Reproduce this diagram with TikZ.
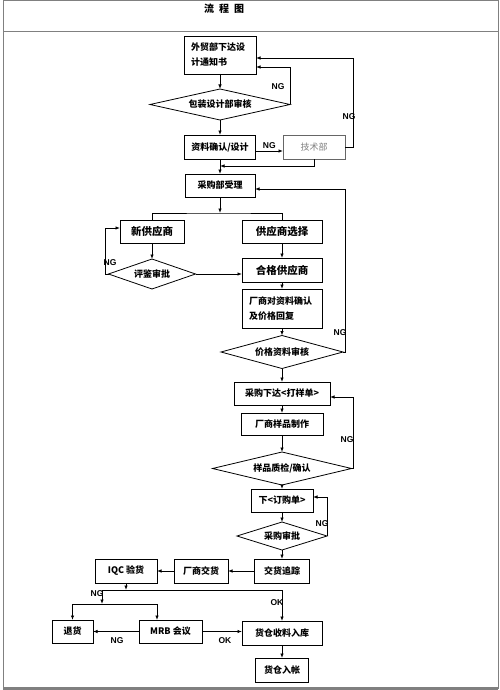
\documentclass[tikz,border=0pt]{standalone}
\usepackage{fontspec}
\setmainfont{Noto Sans CJK SC}
\newfontfamily\ngfont{Liberation Sans}
\usetikzlibrary{shapes.geometric,arrows.meta}

\tikzset{
box/.style={draw,rectangle,inner sep=0pt,outer sep=0pt,font=\bfseries\fontsize{9}{15}\selectfont},
big/.style={font=\bfseries\fontsize{10.5}{12}\selectfont},
chk/.style={draw,diamond,aspect=4,inner sep=0pt,outer sep=0pt,font=\bfseries\fontsize{9}{12}\selectfont},
ng/.style={font=\ngfont\bfseries\fontsize{8.5}{9}\selectfont,inner sep=0pt},
arr/.style={-{Latex[length=4.5pt,width=3.5pt]}},
}

\begin{document}
\begin{tikzpicture}[x=1pt,y=-1pt,line width=0.8pt]
\useasboundingbox (0,0) rectangle (500,690);
\draw[gray,line width=1pt] (3,1) rectangle (498,688);
\draw[gray,line width=1pt] (3,32) -- (498,32);
\draw[gray,line width=3pt] (3,688) -- (498,688);
\node[font=\bfseries\fontsize{10}{12}\selectfont] (title) at (224,9) {流\hspace{5pt}程\hspace{5pt}图};

\node[box,text width=58pt,align=left,inner xsep=7pt,minimum height=38pt] (b1) at (220,55) {外贸部下达设\\计通知书};
\node[chk,minimum width=140pt,minimum height=31pt] (d1) at (220,104.5) {包装设计部审核};
\node[box,minimum width=71pt,minimum height=24pt] (b2) at (220,147) {资料确认/设计};
\node[box,draw=black!60,text=black!50,font=\fontsize{9}{12}\selectfont,minimum width=62pt,minimum height=24pt] (b3) at (314,147) {技术部};
\node[box,minimum width=70pt,minimum height=23pt] (b4) at (220,185.5) {采购部受理};
\node[box,big,minimum width=64pt,minimum height=23pt] (b5) at (152,231.5) {新供应商};
\node[box,big,minimum width=80pt,minimum height=23pt] (b6) at (282,231.5) {供应商选择};
\node[chk,minimum width=87pt,minimum height=30pt] (d2) at (152,274) {评鉴审批};
\node[box,big,minimum width=80pt,minimum height=24pt] (b7) at (282,270) {合格供应商};
\node[box,text width=66pt,align=left,inner xsep=7pt,minimum height=39pt] (b8) at (282,308.5) {厂商对资料确认\\及价格回复};
\node[chk,minimum width=122pt,minimum height=33pt] (d3) at (282,352) {价格资料审核};
\node[box,minimum width=96pt,minimum height=23pt] (b9) at (282,393.5) {采购下达<打样单>};
\node[box,minimum width=82pt,minimum height=22pt] (b10) at (282,424) {厂商样品制作};
\node[chk,minimum width=139pt,minimum height=33pt] (d4) at (282,468.5) {样品质检/确认};
\node[box,minimum width=62pt,minimum height=23pt] (b11) at (282,500.5) {下<订购单>};
\node[chk,minimum width=90pt,minimum height=28pt] (d5) at (282,536) {采购审批};
\node[box,minimum width=55pt,minimum height=24pt] (b12) at (282,571) {交货追踪};
\node[box,minimum width=54pt,minimum height=24pt] (b13) at (201,571) {厂商交货};
\node[box,minimum width=62pt,minimum height=24pt] (b14) at (126,571) {IQC 验货};
\node[box,minimum width=41pt,minimum height=23pt] (b15) at (72.5,631.5) {退货};
\node[box,minimum width=63pt,minimum height=23pt] (b16) at (170.5,631.5) {MRB 会议};
\node[box,minimum width=80pt,minimum height=24pt] (b17) at (282,633) {货仓收料入库};
\node[box,minimum width=53pt,minimum height=24pt] (b18) at (282,670) {货仓入帐};

\coordinate (j1) at (220,166);
\coordinate (br1) at (220,213);
\coordinate (s1) at (102,590);
\coordinate (s2) at (282,590);
\coordinate (s3) at (102,604);

\draw[arr] (b1.south) -- (d1.north);
\draw[arr] (d1.south) -- (b2.north);
\draw[arr] (d1.east) |- ([yshift=-12pt]b1.east);
\draw[arr] ([yshift=-4pt]b2.east) -- ([yshift=-4pt]b3.west) node[ng,midway,above=2pt] {NG};
\draw[arr] (b3.east) -- ++(8,0) |- ([yshift=-3pt]b1.east);
\draw[arr] (b3.south) |- (j1);
\draw[arr] (b2.south) -- (b4.north);
\draw[arr] (b4.south) -- (br1);
\draw (b5.north) |- (br1) -| (b6.north);
\draw[arr] (b5.south) -- (d2.north);
\draw[arr] (d2.west) -- ++(-3,0) |- ([yshift=3.5pt]b5.west);
\draw[arr] (d2.east) -- (d2.east -| b7.west);
\draw[arr] (b6.south) -- (b7.north);
\draw[arr] (b7.south) -- (b8.north);
\draw[arr] (b8.south) -- (d3.north);
\draw[arr] (d3.east) -- ++(2,0) |- ([yshift=-3.5pt]b4.east);
\draw[arr] (d3.south) -- (b9.north);
\draw[arr] (b9.south) -- (b10.north);
\draw[arr] (b10.south) -- (d4.north);
\draw[arr] (d4.east) -- ++(2,0) |- ([yshift=-3.5pt]b9.east);
\draw[arr] (d4.south) -- (b11.north);
\draw[arr] (b11.south) -- (d5.north);
\draw[arr] (d5.east) |- ([yshift=3.5pt]b11.east);
\draw[arr] (d5.south) -- (b12.north);
\draw[arr] (b12.west) -- (b13.east);
\draw[arr] (b13.west) -- (b14.east);
\draw[arr] (b14.south) -- (b14.south |- s1);
\draw (s1) -- (s2);
\draw[arr] (s2) -- (b17.north);
\draw[arr] (s1) -- (s3);
\draw[arr] (s3) -| (b15.north);
\draw[arr] (s3) -| ([xshift=18pt]b16.north west);
\draw[arr] (b16.west) -- (b15.east);
\draw[arr] (b16.east) -- (b16.east -| b17.west);
\draw[arr] (b17.south) -- (b18.north);

\node[ng] (ng1) at (278,87) {NG};
\node[ng] (ng2) at (349,117) {NG};
\node[ng] (ng3) at (110,263) {NG};
\node[ng] (ng4) at (340,333) {NG};
\node[ng] (ng5) at (347,440) {NG};
\node[ng] (ng6) at (322,524) {NG};
\node[ng] (ng7) at (97,594) {NG};
\node[ng] (ok1) at (277,603) {OK};
\node[ng] (ng8) at (117,641) {NG};
\node[ng] (ok2) at (225,641) {OK};
\end{tikzpicture}
\end{document}
